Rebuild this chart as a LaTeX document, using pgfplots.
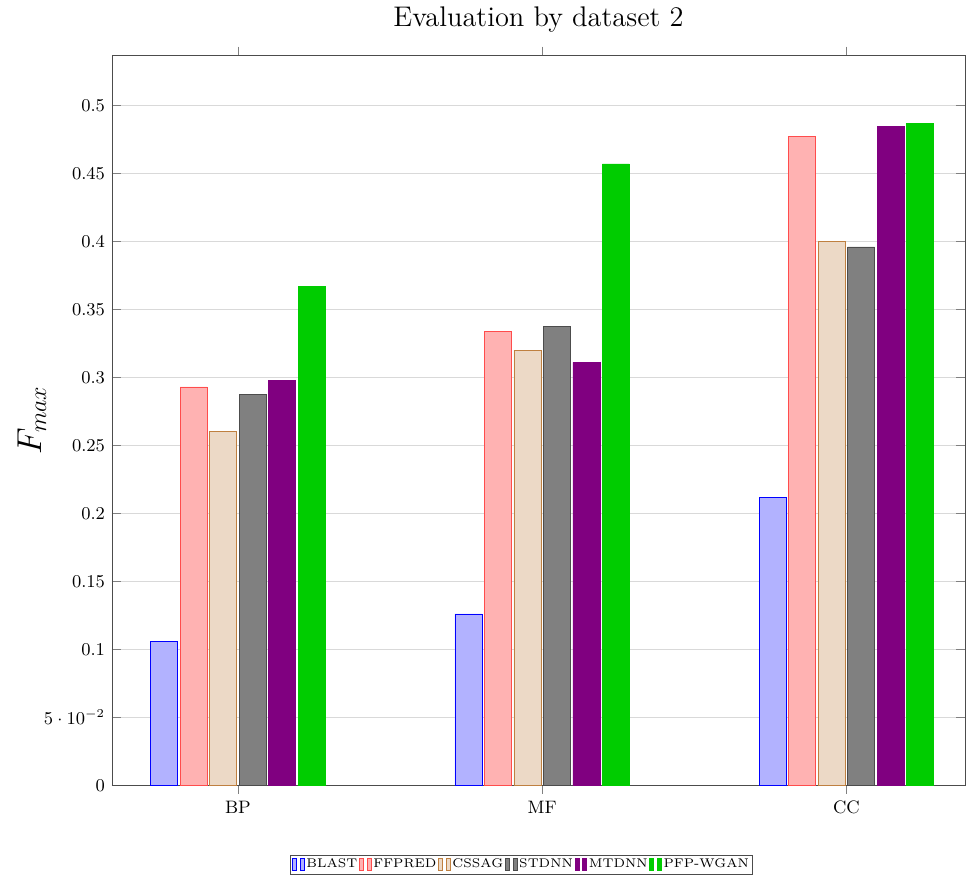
\documentclass[border=0pt]{standalone}
\usepackage{pgfplots}
\pgfplotsset{compat=1.18}
\definecolor{cssag}{rgb}{0.925,0.85,0.775}
\definecolor{wgan}{RGB}{0,204,0}
\definecolor{mtd}{RGB}{128,0,128}
\begin{document}
\begin{tikzpicture}
\begin{axis}[
  scale only axis,
  width=426.5pt, height=365pt,
  ybar=1.25pt, bar width=13.5pt,
  xmin=-0.414, xmax=2.39,
  ymin=0, ymax=0.537,
  xtick=data, xticklabels={BP,MF,CC},
  ytick={0,0.05,0.1,0.15,0.2,0.25,0.3,0.35,0.4,0.45,0.5},
  yticklabels={0,$5\cdot 10^{-2}$,0.1,0.15,0.2,0.25,0.3,0.35,0.4,0.45,0.5},
  tick label style={font=\small},
  ymajorgrids, grid style={black!15},
  axis line style={black!70},
  title={Evaluation by dataset 2},
  title style={font=\fontsize{14.2}{17}\selectfont, yshift=2pt},
  ylabel={$F_{max}$},
  ylabel style={font=\LARGE, yshift=-8pt},
  legend columns=-1,
  legend style={font=\fontsize{6.3}{7.5}\selectfont, at={(0.48,-0.095)}, anchor=north, draw=black!70,
    inner sep=1pt, column sep=0pt, nodes={inner sep=0.9pt}},
  legend image code/.code={%
    \draw[#1] (0pt,-3pt) rectangle (2pt,3pt);
    \draw[#1] (3.8pt,-3pt) rectangle (5.8pt,3pt);},
]
\addplot[draw=blue, fill=blue!30] coordinates {(0,0.106) (1,0.126) (2,0.212)};
\addplot[draw=red!70, fill=red!30] coordinates {(0,0.293) (1,0.334) (2,0.477)};
\addplot[draw=brown, fill=cssag] coordinates {(0,0.260) (1,0.320) (2,0.400)};
\addplot[draw=black!70, fill=black!50] coordinates {(0,0.2875) (1,0.3375) (2,0.396)};
\addplot[draw=mtd, fill=mtd] coordinates {(0,0.298) (1,0.311) (2,0.4845)};
\addplot[draw=wgan, fill=wgan] coordinates {(0,0.367) (1,0.457) (2,0.487)};
\legend{BLAST,FFPRED,CSSAG,STDNN,MTDNN,PFP-WGAN}
\end{axis}
\path ([xshift=-56pt]current axis.south west);
\path ([xshift=2pt]current axis.north east);
\end{tikzpicture}
\end{document}
